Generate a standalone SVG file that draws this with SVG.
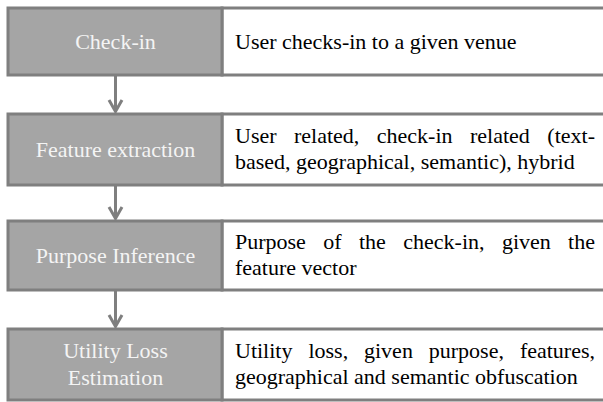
<svg xmlns="http://www.w3.org/2000/svg" width="603" height="402" viewBox="0 0 603 402">
<style>
.step{fill:#a5a5a5;stroke:#7f7f7f;stroke-width:3}
.desc{fill:#ffffff;stroke:#7f7f7f;stroke-width:3}
.lt{font-family:"Liberation Serif","Times New Roman",serif;font-size:22px;fill:#f4f4f4;text-anchor:middle}
.rt{font-family:"Liberation Serif","Times New Roman",serif;font-size:22px;fill:#000000}
.end{text-anchor:end}
.conn{stroke:#7f7f7f;stroke-width:3;fill:none}
</style>
<rect x="0" y="0" width="603" height="402" fill="#ffffff"/>
<g id="connectors">
<g id="a1"><line class="conn" x1="115.5" y1="75" x2="115.5" y2="112"/><polyline class="conn" points="109,100 115.5,111.5 122,100"/></g>
<g id="a2"><line class="conn" x1="115.5" y1="185" x2="115.5" y2="219"/><polyline class="conn" points="109,207 115.5,218.5 122,207"/></g>
<g id="a3"><line class="conn" x1="115.5" y1="290" x2="115.5" y2="327"/><polyline class="conn" points="109,315 115.5,326.5 122,315"/></g>
</g>
<g id="checkin">
<rect class="desc" x="222" y="8" width="390" height="67"/>
<rect class="step" x="8" y="8" width="214" height="67"/>
<text class="lt" x="115.5" y="49">Check-in</text>
<text class="rt" x="235" y="49">User checks-in to a given venue</text>
</g>
<g id="feature">
<rect class="desc" x="222" y="114" width="390" height="71"/>
<rect class="step" x="8" y="114" width="214" height="71"/>
<text class="lt" x="115.5" y="157">Feature extraction</text>
<text class="rt" y="143"><tspan x="235">User</tspan><tspan x="294">related,</tspan><tspan x="376.8">check-in</tspan><tspan x="470">related</tspan></text>
<text class="rt end" x="595" y="143">(text-</text>
<text class="rt" x="235" y="169">based, geographical, semantic), hybrid</text>
</g>
<g id="purpose">
<rect class="desc" x="222" y="221" width="390" height="69"/>
<rect class="step" x="8" y="221" width="214" height="69"/>
<text class="lt" x="115.5" y="263">Purpose Inference</text>
<text class="rt" y="249"><tspan x="235">Purpose</tspan><tspan x="323.3">of</tspan><tspan x="359">the</tspan><tspan x="403.3">check-in,</tspan><tspan x="501.9">given</tspan></text>
<text class="rt end" x="595" y="249">the</text>
<text class="rt" x="235" y="275">feature vector</text>
</g>
<g id="utility">
<rect class="desc" x="222" y="329" width="390" height="71"/>
<rect class="step" x="8" y="329" width="214" height="71"/>
<text class="lt" x="115.5" y="358">Utility Loss</text>
<text class="lt" x="115.5" y="385">Estimation</text>
<text class="rt" y="358"><tspan x="235">Utility</tspan><tspan x="308.4">loss,</tspan><tspan x="364">given</tspan><tspan x="428.8">purpose,</tspan></text>
<text class="rt end" x="595" y="358">features,</text>
<text class="rt" x="235" y="384">geographical and semantic obfuscation</text>
</g>
</svg>
